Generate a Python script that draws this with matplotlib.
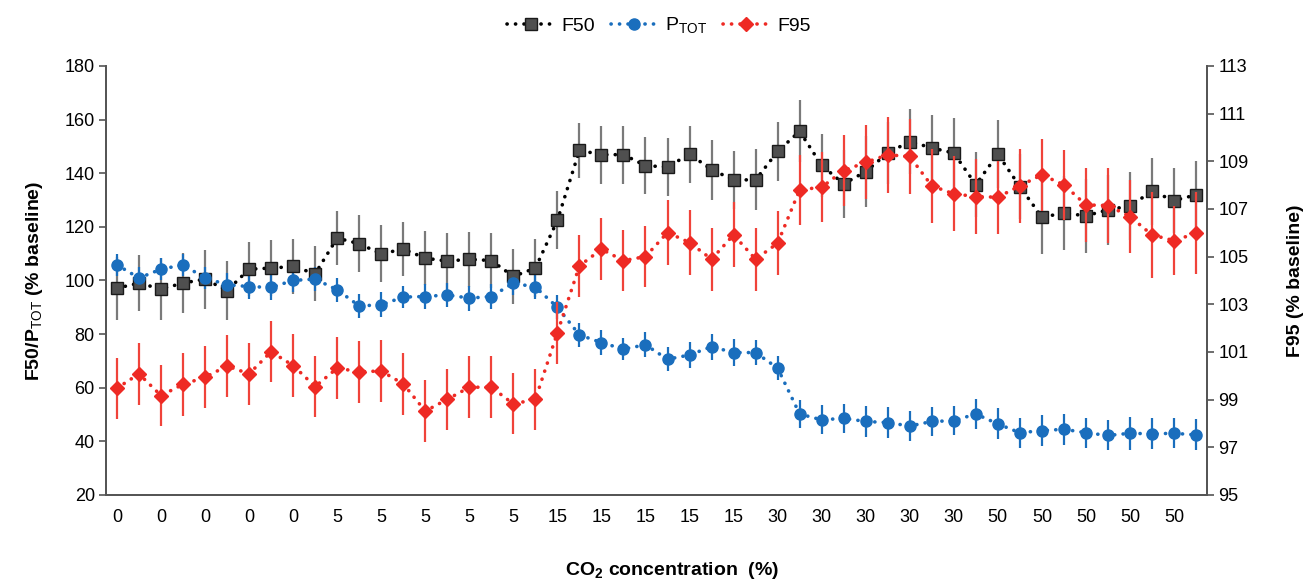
import matplotlib
matplotlib.use("Agg")
import matplotlib.pyplot as plt
import numpy as np

plt.rcParams['font.family'] = ['Liberation Sans', 'DejaVu Sans']
plt.rcParams['mathtext.fontset'] = 'custom'
plt.rcParams['mathtext.rm'] = 'Liberation Sans'
plt.rcParams['mathtext.bf'] = 'Liberation Sans:bold'

# x categories: two measurements per tick label
tick_labels = ['0'] * 5 + ['5'] * 5 + ['15'] * 5 + ['30'] * 5 + ['50'] * 5

f50 = [97.1, 99.0, 96.8, 99.0, 100.5, 96.2, 104.2, 104.6, 105.2, 102.5,
       115.8, 113.7, 109.9, 111.7, 108.3, 107.2, 107.9, 107.4, 101.5, 104.6,
       122.4, 148.5, 146.9, 146.9, 142.8, 142.3, 147.1, 141.3, 137.5, 137.5,
       148.1, 155.6, 142.9, 136.0, 140.6, 147.5, 151.8, 149.4, 147.5, 135.7,
       147.1, 135.0, 123.6, 125.1, 124.1, 126.3, 127.8, 133.2, 129.8, 131.9]
f50_err = [11.7, 10.5, 11.4, 11.2, 11.0, 10.9, 10.1, 10.3, 10.2, 10.2,
           10.0, 10.6, 10.6, 10.0, 10.0, 10.5, 10.3, 10.2, 10.2, 10.8,
           10.8, 10.2, 10.8, 10.8, 10.7, 10.7, 10.6, 11.2, 10.9, 11.4,
           10.9, 11.6, 11.8, 12.8, 13.3, 11.5, 12.1, 12.1, 13.1, 12.2,
           12.8, 12.0, 13.7, 13.7, 13.7, 13.0, 12.6, 12.4, 12.1, 12.7]

ptot = [105.8, 100.9, 104.2, 105.8, 100.9, 98.4, 97.7, 97.4, 100.0, 100.5,
        96.5, 90.5, 90.9, 93.8, 94.0, 94.6, 93.4, 94.0, 99.0, 97.5,
        90.0, 79.7, 76.8, 74.4, 76.0, 70.6, 72.2, 75.3, 73.1, 73.1,
        67.3, 50.2, 48.0, 48.6, 47.4, 47.0, 45.7, 47.4, 47.7, 50.2,
        46.5, 43.2, 44.0, 44.5, 43.2, 42.2, 43.0, 42.8, 43.0, 42.4]
ptot_err = [4.0, 4.0, 4.1, 4.1, 4.0, 4.2, 4.7, 4.7, 4.5, 4.5,
            4.5, 4.5, 4.7, 4.2, 4.5, 4.5, 4.7, 4.5, 4.5, 4.5,
            4.5, 4.5, 4.7, 4.2, 4.7, 4.5, 5.0, 4.8, 5.0, 4.7,
            4.5, 5.2, 5.4, 5.4, 5.6, 5.8, 5.6, 5.5, 5.3, 5.6,
            5.8, 5.6, 5.9, 5.8, 5.6, 5.6, 6.2, 5.8, 5.6, 5.8]

f95 = [99.48, 100.08, 99.17, 99.64, 99.94, 100.41, 100.08, 101.01, 100.43, 99.55,
       100.32, 100.17, 100.20, 99.66, 98.52, 99.01, 99.52, 99.52, 98.82, 99.01,
       101.81, 104.61, 105.31, 104.83, 105.00, 106.01, 105.59, 104.89, 105.91, 104.89,
       105.56, 107.80, 107.91, 108.61, 108.95, 109.27, 109.20, 107.97, 107.63, 107.52,
       107.49, 107.97, 108.43, 108.01, 107.17, 107.14, 106.68, 105.91, 105.67, 105.98]
f95_err = [1.28, 1.30, 1.29, 1.31, 1.29, 1.31, 1.30, 1.28, 1.31, 1.29,
           1.29, 1.30, 1.30, 1.31, 1.29, 1.29, 1.29, 1.29, 1.28, 1.29,
           1.30, 1.31, 1.31, 1.27, 1.29, 1.35, 1.35, 1.33, 1.36, 1.33,
           1.35, 1.47, 1.47, 1.47, 1.55, 1.59, 1.56, 1.55, 1.57, 1.59,
           1.54, 1.55, 1.50, 1.48, 1.56, 1.59, 1.54, 1.80, 1.46, 1.73]

x = np.arange(len(f50))
dots = (0, (0.05, 2.3))

fig = plt.figure(figsize=(13.13, 5.83), dpi=100)
ax = fig.add_axes([0.0807, 0.151, 0.8386, 0.736])
ax2 = ax.twinx()

# left axis: F50 and PTOT
ax.errorbar(x, f50, yerr=f50_err, fmt='none', ecolor='#7a7a7a', elinewidth=1.6, capsize=0, zorder=2)
l1, = ax.plot(x, f50, linestyle=dots, color='black', lw=2.6, dash_capstyle='round',
              marker='s', ms=8, mfc='#4f4f4f', mec='#1a1a1a', mew=1, zorder=3, label='F50')
ax.errorbar(x, ptot, yerr=ptot_err, fmt='none', ecolor='#1a6ebd', elinewidth=1.6, capsize=0, zorder=2)
l2, = ax.plot(x, ptot, linestyle=dots, color='#1a6ebd', lw=2.6, dash_capstyle='round',
              marker='o', ms=8, mfc='#1a6ebd', mec='#1a6ebd', zorder=3, label='P$_{\\mathrm{TOT}}$')

# right axis: F95
ax2.errorbar(x, f95, yerr=f95_err, fmt='none', ecolor='#f0433a', elinewidth=1.6, capsize=0, zorder=2)
l3, = ax2.plot(x, f95, linestyle=dots, color='#ee2a24', lw=2.6, dash_capstyle='round',
               marker='D', ms=7, mfc='#ee2a24', mec='#ee2a24', zorder=3, label='F95')

ax.set_xlim(-0.5, 49.5)
ax.set_ylim(20, 180)
ax.set_yticks(np.arange(20, 181, 20))
ax2.set_ylim(95, 113)
ax2.set_yticks(np.arange(95, 114, 2))

ax.set_xticks(x[::2])
ax.set_xticklabels(tick_labels)
ax.tick_params(axis='x', length=0, pad=10, labelsize=13)
ax.tick_params(axis='y', length=5, width=1.2, color='#555555', labelsize=13, pad=3)
ax2.tick_params(axis='y', length=5, width=1.2, color='#555555', labelsize=13, pad=3)

for a in (ax, ax2):
    a.spines['top'].set_visible(False)
    for s in ('left', 'right', 'bottom'):
        a.spines[s].set_color('#555555')
        a.spines[s].set_linewidth(1.3)

ax.set_ylabel('F50/P$_{\\mathrm{TOT}}$ (% baseline)', fontsize=14, fontweight='bold', labelpad=14)
ax2.set_ylabel('F95 (% baseline)', fontsize=14, fontweight='bold', labelpad=28)
fig.text(0.512, 0.022, 'CO$_{\\mathbf{2}}$ concentration  (%)', fontsize=14, fontweight='bold',
         ha='center', va='center')

fig.legend(handles=[l1, l2, l3], loc='center', bbox_to_anchor=(0.502, 0.955), ncol=3,
           frameon=False, fontsize=14, handlelength=2.4, handletextpad=0.4, columnspacing=0.8)

fig.savefig('out.png', dpi=100)
